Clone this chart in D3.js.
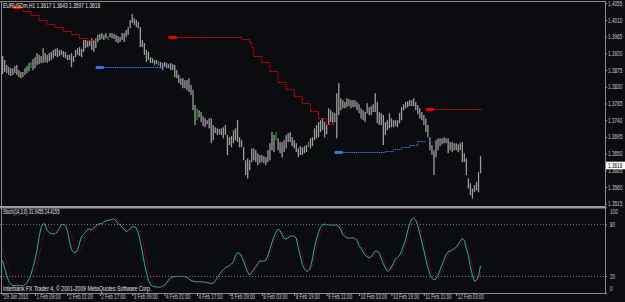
<!DOCTYPE html>
<html>
<head>
<meta charset="utf-8">
<script src="https://cdn.jsdelivr.net/npm/d3@7"></script>
<style>
  body { margin: 0; background: #0b0c10; }
  svg { display: block; }
  text { font-family: "Liberation Sans", Arial, sans-serif; }
</style>
</head>
<body>
<script>
// EURUSDm H1 bars, 29 Jan 2010 - 12 Feb 2010 (one entry per hourly bar)
var highs = [
  1.3913,1.3902,1.3889,1.3883,1.3880,1.3880,1.3886,1.3889,1.3875,1.3870,
  1.3870,1.3880,1.3886,1.3894,1.3897,1.3905,1.3910,1.3921,1.3916,1.3913,
  1.3934,1.3921,1.3916,1.3921,1.3924,1.3929,1.3932,1.3934,1.3929,1.3929,
  1.3926,1.3924,1.3916,1.3916,1.3921,1.3913,1.3929,1.3934,1.3937,1.3932,
  1.3956,1.3956,1.3953,1.3956,1.3961,1.3956,1.3961,1.3970,1.3972,1.3975,
  1.3970,1.3975,1.3967,1.3975,1.3975,1.3972,1.3970,1.3967,1.3964,1.3975,
  1.3975,1.3983,1.3991,1.4010,1.4026,1.4015,1.4010,1.4005,1.3991,1.3956,
  1.3948,1.3929,1.3924,1.3910,1.3907,1.3902,1.3902,1.3899,1.3897,1.3894,
  1.3897,1.3894,1.3891,1.3894,1.3891,1.3889,1.3875,1.3862,1.3853,1.3853,
  1.3848,1.3848,1.3853,1.3835,1.3821,1.3781,1.3772,1.3767,1.3762,1.3751,
  1.3745,1.3740,1.3745,1.3745,1.3727,1.3721,1.3718,1.3716,1.3718,1.3721,
  1.3727,1.3700,1.3694,1.3697,1.3713,1.3718,1.3740,1.3694,1.3686,1.3667,
  1.3632,1.3637,1.3632,1.3664,1.3664,1.3659,1.3651,1.3646,1.3646,1.3643,
  1.3640,1.3659,1.3678,1.3708,1.3700,1.3708,1.3691,1.3681,1.3681,1.3686,
  1.3700,1.3705,1.3708,1.3694,1.3686,1.3678,1.3664,1.3670,1.3667,1.3670,
  1.3673,1.3681,1.3691,1.3694,1.3718,1.3727,1.3735,1.3740,1.3745,1.3735,
  1.3727,1.3772,1.3767,1.3762,1.3759,1.3813,1.3840,1.3799,1.3794,1.3789,
  1.3799,1.3797,1.3794,1.3794,1.3794,1.3789,1.3783,1.3772,1.3767,1.3762,
  1.3786,1.3775,1.3778,1.3783,1.3813,1.3789,1.3762,1.3759,1.3754,1.3735,
  1.3740,1.3759,1.3745,1.3740,1.3740,1.3740,1.3759,1.3775,1.3783,1.3789,
  1.3791,1.3794,1.3794,1.3799,1.3789,1.3781,1.3772,1.3762,1.3754,1.3745,
  1.3727,1.3694,1.3673,1.3659,1.3686,1.3691,1.3691,1.3691,1.3694,1.3691,
  1.3691,1.3681,1.3681,1.3678,1.3678,1.3675,1.3678,1.3681,1.3651,1.3637,
  1.3583,1.3570,1.3556,1.3565,1.3573,1.3600,1.3643
];
var lows = [
  1.3864,1.3870,1.3867,1.3862,1.3859,1.3862,1.3867,1.3862,1.3856,1.3853,
  1.3856,1.3862,1.3867,1.3872,1.3880,1.3875,1.3880,1.3889,1.3891,1.3894,
  1.3894,1.3897,1.3894,1.3899,1.3902,1.3907,1.3913,1.3910,1.3913,1.3916,
  1.3910,1.3907,1.3902,1.3902,1.3883,1.3897,1.3910,1.3916,1.3913,1.3910,
  1.3924,1.3934,1.3937,1.3940,1.3929,1.3924,1.3934,1.3951,1.3956,1.3959,
  1.3956,1.3961,1.3956,1.3964,1.3961,1.3959,1.3951,1.3948,1.3951,1.3956,
  1.3951,1.3964,1.3970,1.3988,1.4002,1.3997,1.3991,1.3988,1.3937,1.3937,
  1.3916,1.3897,1.3902,1.3894,1.3894,1.3889,1.3891,1.3886,1.3880,1.3875,
  1.3883,1.3880,1.3880,1.3875,1.3875,1.3856,1.3853,1.3840,1.3835,1.3826,
  1.3826,1.3821,1.3816,1.3808,1.3767,1.3727,1.3740,1.3748,1.3735,1.3724,
  1.3721,1.3729,1.3718,1.3678,1.3686,1.3705,1.3700,1.3702,1.3700,1.3691,
  1.3700,1.3646,1.3673,1.3667,1.3678,1.3686,1.3681,1.3667,1.3667,1.3632,
  1.3592,1.3583,1.3605,1.3627,1.3632,1.3627,1.3619,1.3624,1.3627,1.3624,
  1.3619,1.3627,1.3632,1.3659,1.3654,1.3686,1.3659,1.3651,1.3640,1.3654,
  1.3664,1.3681,1.3681,1.3670,1.3664,1.3654,1.3640,1.3646,1.3646,1.3651,
  1.3654,1.3667,1.3664,1.3670,1.3686,1.3691,1.3694,1.3708,1.3713,1.3694,
  1.3702,1.3727,1.3735,1.3732,1.3735,1.3691,1.3754,1.3767,1.3772,1.3772,
  1.3775,1.3778,1.3772,1.3775,1.3775,1.3767,1.3759,1.3745,1.3740,1.3735,
  1.3759,1.3754,1.3754,1.3762,1.3762,1.3732,1.3727,1.3727,1.3673,1.3700,
  1.3713,1.3718,1.3721,1.3721,1.3724,1.3721,1.3732,1.3740,1.3767,1.3772,
  1.3775,1.3778,1.3778,1.3778,1.3767,1.3756,1.3745,1.3740,1.3727,1.3708,
  1.3694,1.3659,1.3646,1.3592,1.3640,1.3659,1.3670,1.3675,1.3678,1.3678,
  1.3651,1.3659,1.3654,1.3659,1.3659,1.3654,1.3659,1.3627,1.3627,1.3592,
  1.3556,1.3538,1.3529,1.3546,1.3551,1.3546,1.3597
];
// bars drawn in green
var greenBars = [14, 52, 77, 96, 135, 151];

// stop lines: [from bar, to bar, price]
var redStop1 = [[5,10,1.4046],[10,14,1.4034],[14,18,1.4024],[18,22,1.4010],[22,26,1.4000],
  [26,30,1.3992],[30,34,1.3981],[34,38,1.3973],[38,42,1.3962],[42,46,1.3956]];
var redStop2 = [[82,118,1.3963],[118,122,1.3958],[122,123,1.3951],[123,124,1.3937],[124,128,1.3914],
  [128,132,1.3897],[132,136,1.3873],[136,140,1.3844],[140,144,1.3825],[144,148,1.3806],
  [148,152,1.3785],[152,156,1.3765],[156,160,1.3747],[160,164,1.3731]];
var redStop3 = [[209,237,1.3771]];
var blueStop1 = [[46,78,1.3884],[78,82,1.3886]];
var blueStop2 = [[164,189,1.3653],[189,193,1.3656],[193,197,1.3662],[197,201,1.3668],
  [201,205,1.3674],[205,209,1.3683]];

// Stoch(14,3,6)
var stochMain = [
  38,29,21,14,11,9,9,8.7,9,9, 8.7,10,12,16,22,30,39,50,65,76,
  81,80,73,70.5,69.5,69,69,72,75.5,79.5, 80,79,73,61,51,47.5,47,50.5,58.5,66,
  68.5,71,74.5,74.5,74,76,78,80,81,81, 83,84.5,85,85,86,86.5,84,81.5,79,77,
  74.5,71.5,73,75.5,77,77.5,76,70,60,48, 35,24.5,15,10,8,7.5,7.3,7,7,8,
  9.3,12,15.5,18,19.2,19.5,19.6,19.6,19.6,19.5, 19.2,18.8,16.5,14.8,14,13.4,13.4,13.4,13.3,13.1,
  12.8,12.5,11.8,11.2,11.5,14.5,18,21.5,25,27.5, 30,31,32,34,37,44,47.5,46.5,42.5,37.5,
  30.5,24.5,21,24.5,27.5,31,34.5,37.5,37.5,37, 38.5,43.5,51,59,66,71,74.5,73,68,63.8,
  63,64.5,66.6,66.6,66.6,64,53,43,33.5,28.5, 25.5,26,30,40,53,63,71,76.5,79.5,80.5,
  80,79.6,79.3,79,79.2,79.5,78,74,68.5,66, 64.5,64,64.3,64.7,63.5,61.5,55.5,52,48,44.5,
  42.5,41,42.5,46,49,49,46.5,40,34.5,29.5, 25.5,26.5,30.5,35,39.5,42,44,49,56,62,
  72.5,80,86.3,87.3,85,79,69.5,60,50,39.5, 30,22,17.5,15.5,16.5,21,27,33,39,45,
  48,49,50.5,52,53.5,57,60.5,64,61.5,52, 44,31,21,14,15,19.5,31.9
];
var stochSignal = [
  52,44,36,29,22,17,13,11,9.5,9, 9,9.3,10,12,15,20,26,33,43,54,
  65,73,78,77,74,71,69.5,70,71.5,74, 77,79.5,79,75,67,58,51,48,49,53,
  59,66,70,72,74,74.5,75.5,77,79,80.5, 81.5,82.5,84,85,85.3,85.8,85.8,84.5,82,79.5,
  77,74.5,73,73,74,76,77,75.5,71,63, 51,39,28,19,13,9.5,8,7.5,7.2,7.3,
  8,9.5,12,15,17.5,19,19.5,19.6,19.6,19.6, 19.4,19,18.2,16.8,15.2,14.2,13.7,13.4,13.4,13.3,
  13.1,12.8,12.4,11.8,11.5,12.4,14.5,18,21.5,24.5, 27.5,29.5,31,32.3,34.3,38.3,42.8,46,45.5,42.2,
  36.8,30.8,25.3,23.3,24.3,27.7,31,34.3,36.5,37.3, 37.7,39.7,44.3,51.2,58.7,65.3,70.5,72.8,71.8,68.3,
  65,63.8,64.7,66,66.6,65.7,61.2,53.3,43.2,35, 29.2,26.7,27.2,32,41,52,62.3,70.2,75.7,78.8,
  80,80,79.6,79.3,79.2,79.2,78.9,77.2,73.5,69.5, 66.3,64.8,64.3,64.3,64.2,63.2,60.2,56.3,51.8,48.2,
  45,42.7,42,43.2,45.8,48,48.2,45.2,40.3,34.7, 29.8,27.2,27.5,30.7,35,38.8,41.8,45,49.7,55.7,
  63.5,71.5,79.6,84.5,86.2,83.8,77.8,69.5,59.8,49.8, 39.8,30.5,23.2,18.3,16.5,17.7,21.5,27,33,39,
  44,47.3,49.2,50.5,52,54.2,57,60.5,62,59.2, 52.5,42.3,32,22,16.7,16.2,24.4
];
var stochLevels = [80, 20];

// axis labels
var priceTicks = [1.4055,1.4010,1.3965,1.3920,1.3875,1.3830,1.3785,1.3740,1.3695,1.3650,1.3605,1.3560,1.3515];
var lastPrice = 1.3618;
var stochTicks = [100, 80, 20, 0];
var timeTickBars = [0,16,32,48,64,80,96,112,128,144,160,176,192,208,224];
var timeLabels = ["29 Jan 2010","1 Feb 09:00","2 Feb 01:00","2 Feb 17:00","3 Feb 09:00",
  "4 Feb 01:00","4 Feb 17:00","5 Feb 09:00","8 Feb 03:00","8 Feb 19:00","9 Feb 11:00",
  "10 Feb 03:00","10 Feb 19:00","11 Feb 11:00","12 Feb 03:00"];

var width = 625, height = 302, axisX = 605;

var svg = d3.select("body").append("svg")
    .attr("width", width)
    .attr("height", height);

svg.append("rect").attr("width", width).attr("height", height).attr("fill", "#0b0c10");

// scales
var x = d3.scaleLinear().domain([0, highs.length - 1]).range([2.6, 480.5]);
var y = d3.scaleLinear().domain([1.3515, 1.4055]).range([203.7, 3.3]);
var ys = d3.scaleLinear().domain([0, 100]).range([293.2, 207.3]);

// the small terminal font is narrow: squeeze each text horizontally
// around its left anchor so it is perChar wide per character
function squeeze(sel, perChar) {
  sel.each(function() {
    var t = d3.select(this);
    var k = this.textContent.length * perChar / this.getComputedTextLength();
    var ax = +t.attr("x") || 0;
    t.attr("transform", "translate(" + ax + ",0) scale(" + k + ",1) translate(" + (-ax) + ",0)");
  });
}

// frame
var frame = svg.append("g").attr("fill", "#8a8a8a");
frame.append("rect").attr("x", 0).attr("y", 1).attr("width", axisX + 1).attr("height", 1);
frame.append("rect").attr("x", 1).attr("y", 1).attr("width", 1).attr("height", 292);
frame.append("rect").attr("x", 0).attr("y", 206).attr("width", axisX + 1).attr("height", 2.5).attr("fill", "#9a9a9a");
frame.append("rect").attr("x", 0).attr("y", 293).attr("width", axisX + 1).attr("height", 1);
frame.append("rect").attr("x", axisX).attr("y", 1).attr("width", 1).attr("height", 293);

// price bars
svg.append("g").selectAll("rect")
    .data(highs)
  .enter().append("rect")
    .attr("x", function(d, i) { return x(i) - 0.6; })
    .attr("y", function(d) { return y(d); })
    .attr("width", 1.3)
    .attr("height", function(d, i) { return y(lows[i]) - y(d); })
    .attr("fill", function(d, i) { return greenBars.indexOf(i) >= 0 ? "#14a014" : "#9c9c9c"; });

// stop lines, drawn as dotted steps with a thick start
var stepLine = d3.line()
    .x(function(d) { return x(d[0]); })
    .y(function(d) { return Math.round(y(d[1])) + 0.5; });

function drawStop(segs, color) {
  var pts = [];
  segs.forEach(function(s) { pts.push([s[0], s[2]]); pts.push([s[1], s[2]]); });
  svg.append("path")
      .attr("d", stepLine(pts))
      .attr("fill", "none")
      .attr("stroke", color)
      .attr("stroke-width", 1)
      .attr("stroke-dasharray", "1.4,0.7");
  svg.append("path")
      .attr("d", stepLine([[segs[0][0], segs[0][2]], [segs[0][0] + 4, segs[0][2]]]))
      .attr("stroke", color)
      .attr("stroke-width", 3);
}
drawStop(redStop1, "#ee0000");
drawStop(redStop2, "#ee0000");
drawStop(redStop3, "#ee0000");
drawStop(blueStop1, "#3f6fe6");
drawStop(blueStop2, "#3f6fe6");

// price axis
var pAxis = svg.append("g")
    .attr("transform", "translate(" + axisX + ",0)")
    .call(d3.axisRight(y).tickValues(priceTicks).tickSize(2).tickFormat(d3.format(".4f")));
pAxis.select(".domain").remove();
pAxis.selectAll("line").attr("stroke", "#9a9a9a");
pAxis.selectAll("text").attr("fill", "#c8c8c8").attr("font-size", "6.5px").attr("x", 3)
    .call(squeeze, 2.4);

// last price box
svg.append("rect")
    .attr("x", axisX + 1).attr("y", y(lastPrice) - 3.8)
    .attr("width", 19).attr("height", 7.6).attr("fill", "#ffffff");
svg.append("text")
    .attr("x", axisX + 3).attr("y", y(lastPrice) + 2.3)
    .attr("font-size", "6.5px").attr("fill", "#000")
    .text(d3.format(".4f")(lastPrice))
    .call(squeeze, 2.4);

// stochastic panel
svg.append("g").selectAll("line")
    .data(stochLevels)
  .enter().append("line")
    .attr("x1", 0).attr("x2", axisX)
    .attr("y1", function(d) { return Math.round(ys(d)) + 0.5; })
    .attr("y2", function(d) { return Math.round(ys(d)) + 0.5; })
    .attr("stroke", "#707070")
    .attr("stroke-dasharray", "1,2");

var sLine = d3.line()
    .x(function(d, i) { return x(i); })
    .y(function(d) { return ys(d); });

svg.append("path")
    .attr("d", sLine(stochMain))
    .attr("fill", "none")
    .attr("stroke", "#20b2aa")
    .attr("stroke-width", 1);

svg.append("path")
    .attr("d", sLine(stochSignal))
    .attr("fill", "none")
    .attr("stroke", "#d00000")
    .attr("stroke-width", 1)
    .attr("stroke-dasharray", "1,1.5");

var sAxis = svg.append("g")
    .attr("transform", "translate(" + axisX + ",0)")
    .call(d3.axisRight(ys).tickValues(stochTicks).tickSize(2));
sAxis.select(".domain").remove();
sAxis.selectAll("line").attr("stroke", "#9a9a9a");
sAxis.selectAll("text").attr("fill", "#c8c8c8").attr("font-size", "6.5px").attr("x", 5)
    .attr("dy", function(d) { return d == 100 ? "0.95em" : (d == 0 ? "-0.35em" : "0.32em"); })
    .call(squeeze, 2.6);

// time axis
var tAxis = svg.append("g")
    .attr("transform", "translate(0,293)")
    .call(d3.axisBottom(x).tickValues(timeTickBars).tickSize(3)
      .tickFormat(function(d, i) { return timeLabels[i]; }));
tAxis.select(".domain").remove();
tAxis.selectAll("line").attr("stroke", "#9a9a9a");
tAxis.selectAll("text").attr("fill", "#c8c8c8").attr("font-size", "6.5px")
    .attr("text-anchor", "start").attr("x", 1).attr("y", 1.5).attr("dy", "0.75em")
    .call(squeeze, 2.2);

// captions
var cap = svg.append("g").attr("fill", "#e4e4e4").attr("font-size", "6.5px");
cap.append("text").attr("x", 3).attr("y", 8.5)
    .text("EURUSDm,H1  1.3617 1.3643 1.3597 1.3618").call(squeeze, 2.5);
cap.append("text").attr("x", 3).attr("y", 214.5)
    .text("Stoch(14,3,6) 31.9455 24.4155").call(squeeze, 1.95);
cap.append("text").attr("x", 3).attr("y", 291)
    .text("Interbank FX Trader 4, \u00a9 2001-2009 MetaQuotes Software Corp.").call(squeeze, 2.48);
</script>
</body>
</html>
